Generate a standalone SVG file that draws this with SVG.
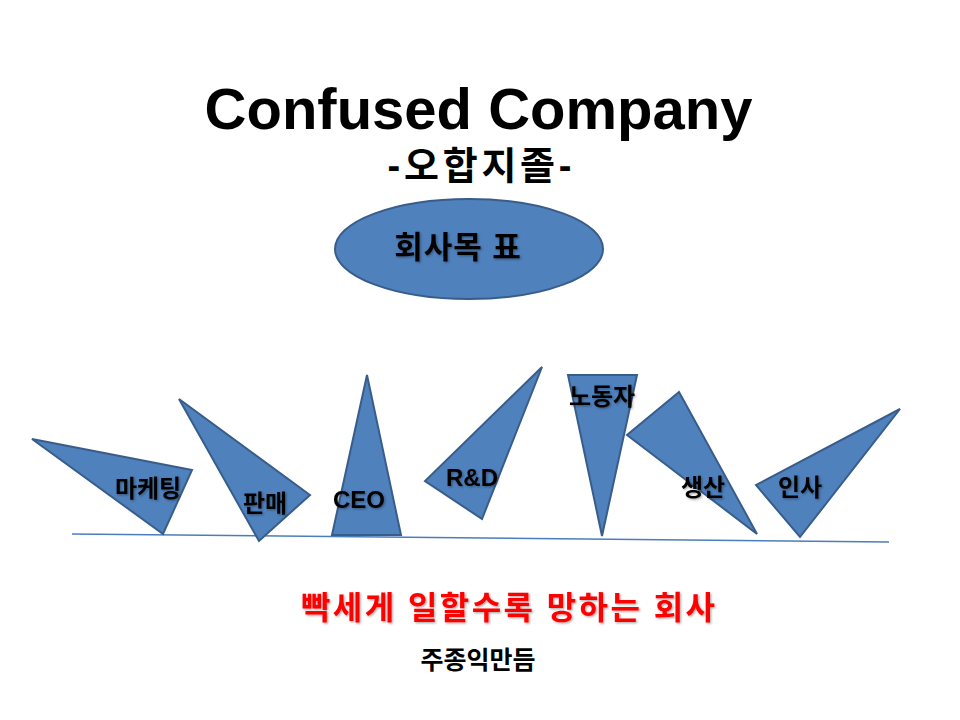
<svg xmlns="http://www.w3.org/2000/svg" width="960" height="720" viewBox="0 0 960 720">
<defs>
<filter id="sh" x="-10%" y="-20%" width="130%" height="160%">
<feDropShadow dx="1.2" dy="1.2" stdDeviation="0.8" flood-color="#000" flood-opacity="0.35"/>
</filter>
</defs>
<style>
.shape{fill:#4F81BD;stroke:#385D8A;stroke-width:2;stroke-linejoin:miter}
.t{font-family:"Liberation Sans","Noto Sans CJK KR",sans-serif;font-weight:bold;text-anchor:middle;fill:#000}
.lbl{font-size:24px;filter:url(#sh)}
.base{stroke:#4A7EBB;stroke-width:1.5;fill:none}
</style>
<rect width="960" height="720" fill="#fff"/>
<g id="title">
<text class="t" x="478.5" y="129" font-size="58">Confused Company</text>
<text class="t" x="479.5" y="179" font-size="38" textLength="184" lengthAdjust="spacing">-오합지졸-</text>
</g>
<g id="goal">
<ellipse class="shape" cx="469" cy="249" rx="134" ry="50"/>
<text class="t" x="458" y="258" font-size="31" letter-spacing="1" filter="url(#sh)">회사목 표</text>
</g>
<g id="connectors">
<line class="base" x1="72" y1="534" x2="889" y2="542"/>
</g>
<g id="marketing">
<polygon class="shape" points="32,439 192,470 163,534"/>
<text class="t lbl" x="148" y="497">마케팅</text>
</g>
<g id="sales">
<polygon class="shape" points="179,399 310,495 259,541"/>
<text class="t lbl" x="265" y="512">판매</text>
</g>
<g id="ceo">
<polygon class="shape" points="367,375 401,535 332,535"/>
<text class="t lbl" x="359" y="508" font-size="21">CEO</text>
</g>
<g id="rnd">
<polygon class="shape" points="542,367 482,519 425,481"/>
<text class="t lbl" x="472" y="486" font-size="22">R&amp;D</text>
</g>
<g id="worker">
<polygon class="shape" points="568,375 637,375 602,536"/>
<text class="t lbl" x="602" y="405">노동자</text>
</g>
<g id="production">
<polygon class="shape" points="679,392 757,534 627,435"/>
<text class="t lbl" x="703" y="496">생산</text>
</g>
<g id="hr">
<polygon class="shape" points="900,409 800,537 756,485"/>
<text class="t lbl" x="800" y="496">인사</text>
</g>
<g id="caption">
<text class="t" x="508" y="619" font-size="32" style="fill:#FF0000" filter="url(#sh)" textLength="414" lengthAdjust="spacing">빡세게 일할수록 망하는 회사</text>
<text class="t" x="478" y="669" font-size="25">주종익만듬</text>
</g>
</svg>
